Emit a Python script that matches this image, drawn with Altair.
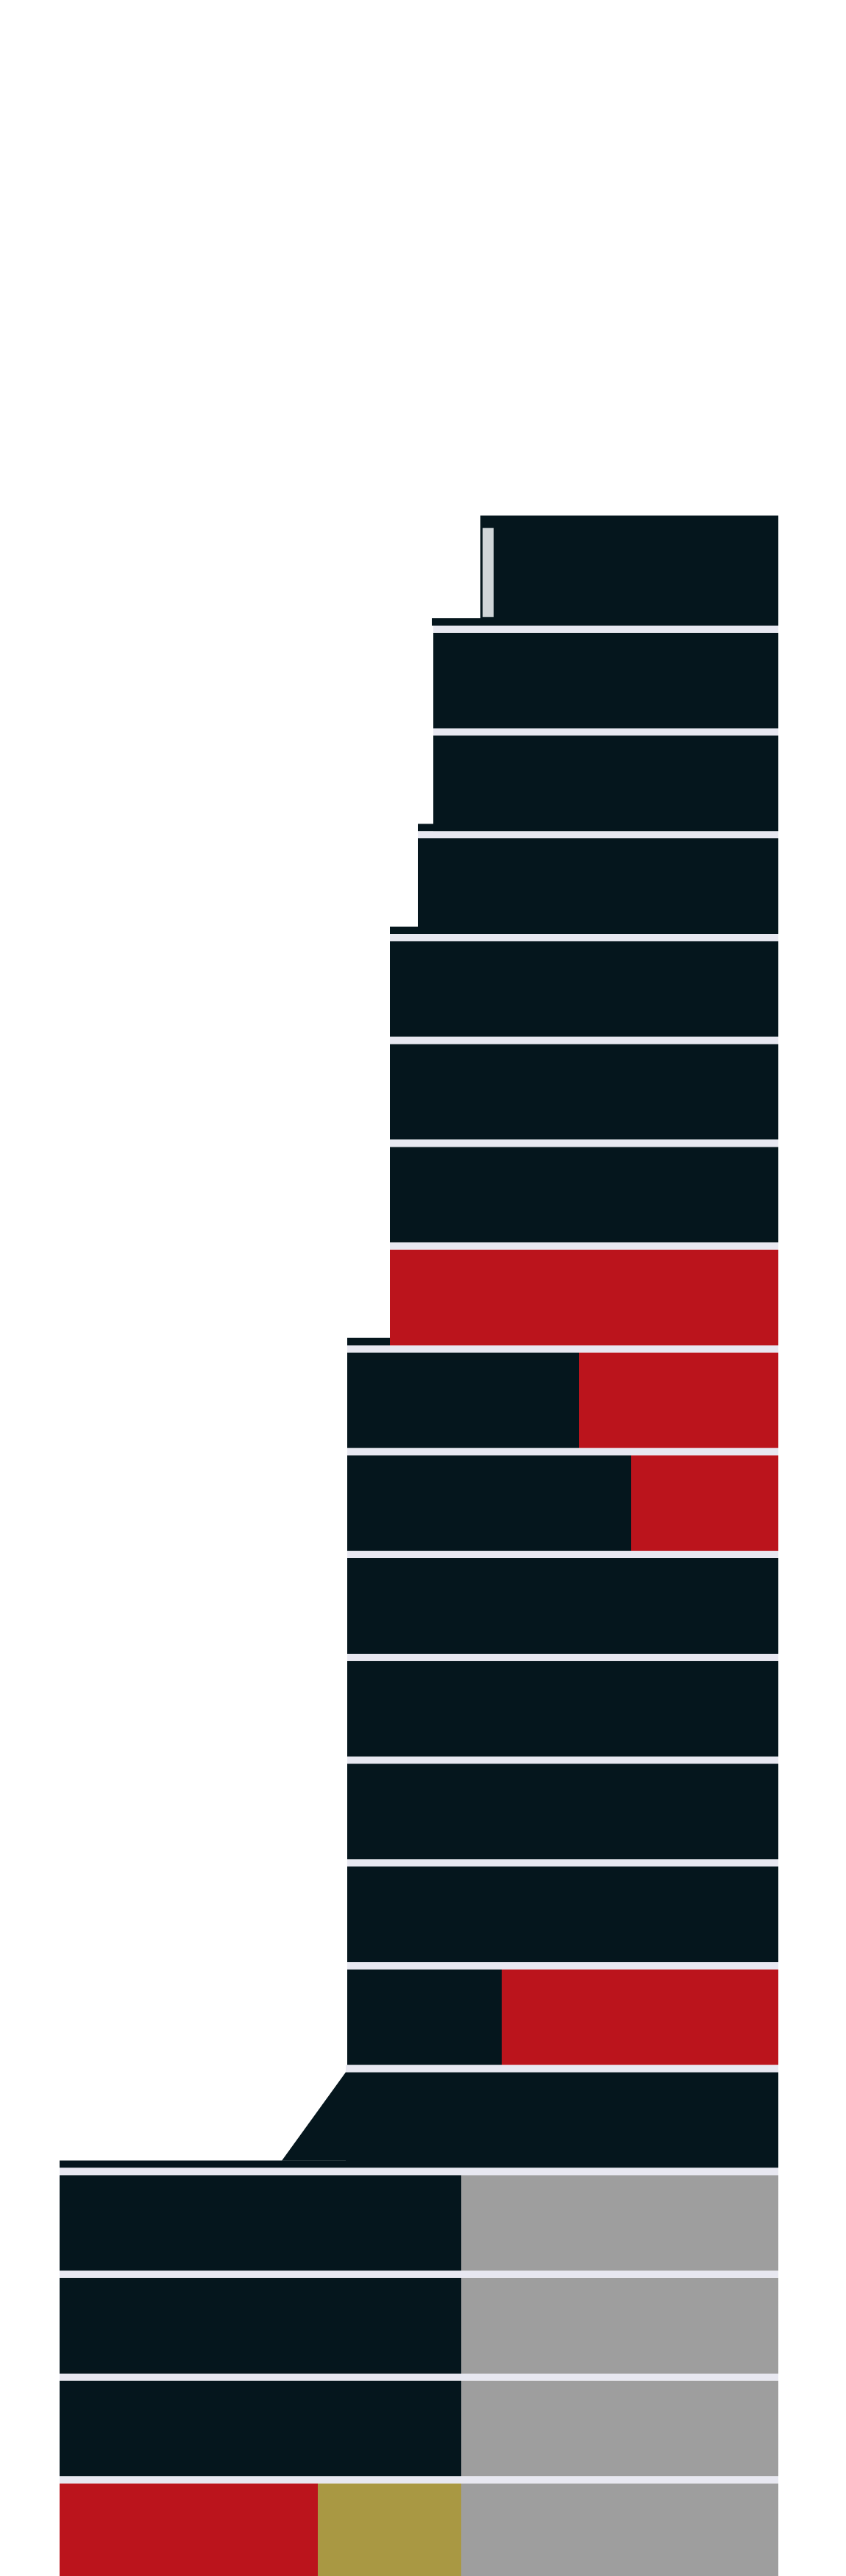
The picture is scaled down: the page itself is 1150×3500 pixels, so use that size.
import altair as alt
import pandas as pd

# ---- data -----------------------------------------------------------------
# storeys counted from the bottom: 1 = lowest visible floor, 20 = roof floor
storeys = list(range(1, 21))
left_edge = [81, 81, 81, 81, 470, 472, 472, 472, 472, 472,
             472, 472, 530, 530, 530, 530, 568, 589, 589, 653]
right_edge = 1058
roof_top = 20.07          # level of the roof line
sep_size = 0.069          # thickness of the floor separators (in storeys)
ledge_size = 0.072        # thickness of the set-back ledges (in storeys)

# storeys that are not a single dark block
mixed_storey = [1, 1, 1, 2, 2, 3, 3, 4, 4, 6, 6, 11, 11, 12, 12, 13]
mixed_start = [81, 432, 627, 81, 627, 81, 627, 81, 627, 472, 682, 472, 858, 472, 787, 530]
mixed_end = [432, 627, 1058, 627, 1058, 627, 1058, 627, 1058, 682, 1058, 858, 1058, 787, 1058, 1058]
mixed_use = ["red", "olive", "grey", "dark", "grey", "dark", "grey", "dark", "grey",
             "dark", "red", "dark", "red", "dark", "red", "red"]

# set-back ledges at the foot of a narrower storey
ledge_storey = [5, 13, 17, 18, 20]
ledge_start = [81, 472, 530, 568, 587]
ledge_end = [470, 530, 568, 589, 653]

# slanted set-back of storey 5
slope_level = [4.07, 4.93]
slope_left = [383, 470]

# window strip in the roof floor
window_x = [656, 671]
window_level = [19.085, 19.95]

use_names = ["dark", "red", "olive", "grey", "sep", "window"]
use_colors = ["#05161d", "#bb141c", "#a99843", "#9e9e9e", "#e8e8f1", "#d0d5d8"]

# ---- tables ---------------------------------------------------------------
rows = []
mixed = set(mixed_storey)
for s, l in zip(storeys, left_edge):
    top = roof_top if s == storeys[-1] else s - sep_size
    if s not in mixed:
        rows.append(dict(x=l, x2=right_edge, y=s - 1, y2=top, use="dark"))
for s, a, b, u in zip(mixed_storey, mixed_start, mixed_end, mixed_use):
    rows.append(dict(x=a, x2=b, y=s - 1, y2=s - sep_size, use=u))
for s, a, b in zip(ledge_storey, ledge_start, ledge_end):
    rows.append(dict(x=a, x2=b, y=s - 1, y2=s - 1 + ledge_size, use="dark"))
rows.append(dict(x=window_x[0], x2=window_x[1], y=window_level[0], y2=window_level[1], use="window"))
for s, l in zip(storeys[:-1], left_edge[:-1]):
    rows.append(dict(x=l, x2=right_edge, y=s - sep_size, y2=s, use="sep"))
rects = pd.DataFrame(rows)
rects["order"] = range(len(rects))

slope = pd.DataFrame(dict(level=slope_level, left=slope_left, right=[right_edge] * 2))

# ---- scales (1 unit = 1 px across, 1 storey = 139.7 px up) -----------------
xs = alt.Scale(domain=[8, 1142], zero=False, nice=False)
ground_px = 3504.3
pitch = 139.7
ys = alt.Scale(domain=[(ground_px - 3500) / pitch, (ground_px - 8) / pitch], zero=False, nice=False)
cs = alt.Scale(domain=use_names, range=use_colors)

floors = alt.Chart(rects).mark_rect(strokeWidth=0).encode(
    x=alt.X("x:Q", scale=xs, axis=None),
    x2="x2",
    y=alt.Y("y:Q", scale=ys, axis=None),
    y2="y2",
    color=alt.Color("use:N", scale=cs, legend=None),
    order="order:Q",
)

slant = alt.Chart(slope).mark_area(orient="horizontal", color="#05161d").encode(
    y=alt.Y("level:Q", scale=ys, axis=None),
    x=alt.X("left:Q", scale=xs, axis=None),
    x2="right",
)

chart = alt.layer(slant, floors).properties(
    width=1134, height=3492, padding=0,
    autosize=alt.AutoSizeParams(type="none"),
    background="#ffffff",
).configure_view(stroke=None)

chart.save("out.html", embed_options={"renderer": "svg", "actions": False})
